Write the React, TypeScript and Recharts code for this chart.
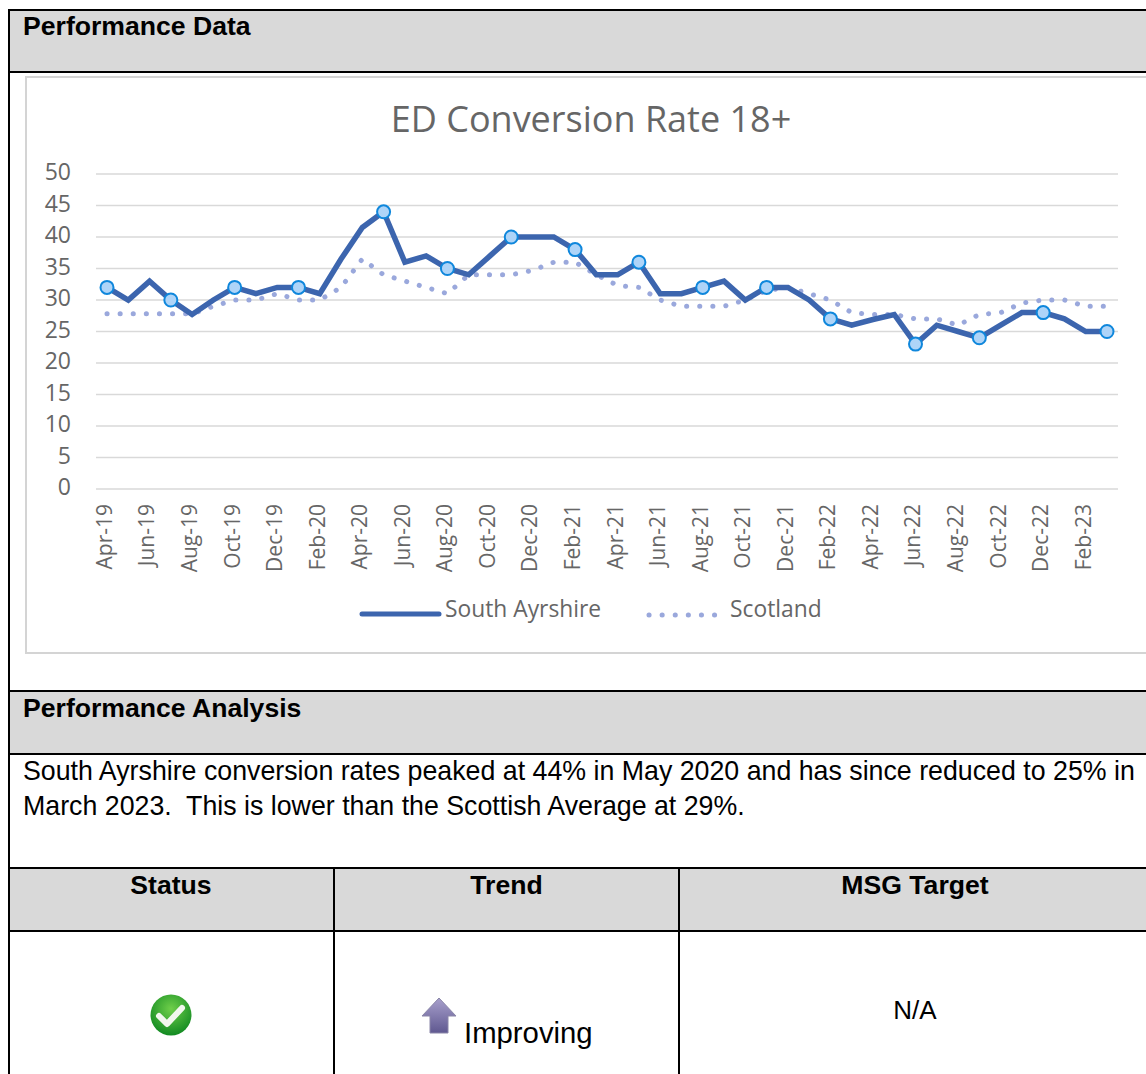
import { CSSProperties } from 'react'
import { LineChart, Line, XAxis, YAxis, CartesianGrid, Legend } from 'recharts'

const MONTHS = [
  'Apr-19', 'May-19', 'Jun-19', 'Jul-19', 'Aug-19', 'Sep-19', 'Oct-19', 'Nov-19', 'Dec-19',
  'Jan-20', 'Feb-20', 'Mar-20', 'Apr-20', 'May-20', 'Jun-20', 'Jul-20', 'Aug-20', 'Sep-20', 'Oct-20', 'Nov-20', 'Dec-20',
  'Jan-21', 'Feb-21', 'Mar-21', 'Apr-21', 'May-21', 'Jun-21', 'Jul-21', 'Aug-21', 'Sep-21', 'Oct-21', 'Nov-21', 'Dec-21',
  'Jan-22', 'Feb-22', 'Mar-22', 'Apr-22', 'May-22', 'Jun-22', 'Jul-22', 'Aug-22', 'Sep-22', 'Oct-22', 'Nov-22', 'Dec-22',
  'Jan-23', 'Feb-23', 'Mar-23',
]

const SOUTH_AYRSHIRE = [
  32, 30, 33, 30, 27.7, 30, 32, 31, 32,
  32, 31, 36.5, 41.5, 44, 36, 37, 35, 34, 37, 40, 40,
  40, 38, 34, 34, 36, 31, 31, 32, 33, 30, 32, 32,
  30, 27, 26, 26.9, 27.7, 23, 26, 25, 24, 26, 28, 28,
  27, 25, 25,
]

const SCOTLAND = [
  27.8, 27.8, 27.8, 27.8, 27.8, 29, 30, 30, 31,
  30, 30, 32, 36.5, 34, 33, 32, 31, 34, 34, 34, 34.7,
  36, 36, 34, 32.3, 32, 30, 29, 29, 29, 30, 31.5, 32,
  31, 30, 28, 27.7, 27.7, 27, 27, 26, 27.7, 28, 29.5, 30,
  30, 29, 29,
]

// months that carry a round marker on the South Ayrshire line
const MARKED = [
  'Apr-19', 'Jul-19', 'Oct-19', 'Jan-20', 'May-20', 'Aug-20', 'Nov-20', 'Feb-21',
  'May-21', 'Aug-21', 'Nov-21', 'Feb-22', 'Jun-22', 'Sep-22', 'Dec-22', 'Mar-23',
]

const Y_TICKS = [0, 5, 10, 15, 20, 25, 30, 35, 40, 45, 50]

const chartData = MONTHS.map((month, i) => ({
  month,
  southAyrshire: SOUTH_AYRSHIRE[i],
  scotland: SCOTLAND[i],
}))

const CHART_FONT = '"Open Sans", sans-serif'
const TEXT_FONT = '"Liberation Sans", Arial, sans-serif'
const AXIS_GREY = '#666666'
const MAIN_BLUE = '#3c65ae'
const DOT_BLUE = '#9aa8dc'

function box(left: number, top: number, width: number, height: number, background: string): CSSProperties {
  return { position: 'absolute', left, top, width, height, background }
}

function label(left: number, top: number, size: number, bold = false): CSSProperties {
  return {
    position: 'absolute',
    left,
    top,
    fontFamily: TEXT_FONT,
    fontSize: size,
    fontWeight: bold ? 700 : 400,
    color: '#000',
    whiteSpace: 'pre',
    lineHeight: 1,
  }
}

function MarkerDot(props: any) {
  const { cx, cy, payload, index } = props
  if (!MARKED.includes(payload.month)) return <g key={index} />
  return <circle key={index} cx={cx} cy={cy} r={6.5} fill="#aed4f8" stroke="#0f87dc" strokeWidth={2} />
}

function ChartLegend() {
  return (
    <svg width={520} height={40} style={{ display: 'block' }}>
      <line x1={3} x2={80} y1={24} y2={24} stroke={MAIN_BLUE} strokeWidth={5} strokeLinecap="round" />
      <text x={86} y={27} fontFamily={CHART_FONT} fontSize={22.8} fill={AXIS_GREY}>South Ayrshire</text>
      <line x1={290} x2={360} y1={25} y2={25} stroke={DOT_BLUE} strokeWidth={5} strokeLinecap="round" strokeDasharray="0.1 13" />
      <text x={371} y={27} fontFamily={CHART_FONT} fontSize={22.8} fill={AXIS_GREY}>Scotland</text>
    </svg>
  )
}

function CheckIcon() {
  return (
    <svg width={44} height={44} viewBox="0 0 44 44" style={{ position: 'absolute', left: 149, top: 993 }}>
      <defs>
        <radialGradient id="checkFill" cx="50%" cy="35%" r="65%">
          <stop offset="0%" stopColor="#6fcf4a" />
          <stop offset="100%" stopColor="#128a22" />
        </radialGradient>
      </defs>
      <circle cx={22} cy={22} r={20.5} fill="url(#checkFill)" />
      <path d="M10 23 L18 31 L33 15" fill="none" stroke="#f2f7ee" strokeWidth={6} strokeLinejoin="round" strokeLinecap="round" />
    </svg>
  )
}

function ArrowIcon() {
  return (
    <svg width={38} height={40} viewBox="0 0 38 40" style={{ position: 'absolute', left: 421, top: 997 }}>
      <defs>
        <linearGradient id="arrowFill" x1="0" y1="0" x2="0" y2="1">
          <stop offset="0%" stopColor="#a8a0cc" />
          <stop offset="100%" stopColor="#5f5890" />
        </linearGradient>
      </defs>
      <path d="M18 1 L35 19 L27 19 L27 36 L9 36 L9 19 L1 19 Z" fill="url(#arrowFill)" stroke="#8a86a8" strokeWidth={1} />
    </svg>
  )
}

export default function App() {
  return (
    <div style={{ position: 'absolute', left: 0, top: 0, width: 1146, height: 1074, overflow: 'hidden', background: '#fff' }}>
      {/* table shading */}
      <div style={box(9, 10, 1137, 62, '#d9d9d9')} />
      <div style={box(9, 691, 1137, 63, '#d9d9d9')} />
      <div style={box(9, 868, 1137, 62, '#d9d9d9')} />

      {/* chart frame */}
      <div style={{ position: 'absolute', left: 25, top: 76, width: 1130, height: 578, border: '2px solid #d4d4d4', boxSizing: 'border-box' }} />

      <div style={{ position: 'absolute', left: 0, top: 0 }}>
        <LineChart
          width={1146}
          height={720}
          data={chartData}
          margin={{ top: 174, right: 28, bottom: 0, left: 0 }}
        >
          <CartesianGrid vertical={false} stroke="#d9d9d9" strokeWidth={1.5} />
          <XAxis
            dataKey="month"
            interval={1}
            height={191}
            padding={{ left: 11, right: 11 }}
            axisLine={false}
            tickLine={false}
            angle={-90}
            textAnchor="end"
            tickMargin={16}
            tick={{ fontSize: 21, fontFamily: CHART_FONT, fill: AXIS_GREY, dx: -10, dy: -7 }}
          />
          <YAxis
            width={96}
            domain={[0, 50]}
            ticks={Y_TICKS}
            interval={0}
            axisLine={false}
            tickLine={false}
            tickMargin={19}
            tick={{ fontSize: 23, fontFamily: CHART_FONT, fill: AXIS_GREY, dy: -2 }}
          />
          <Legend
            content={<ChartLegend />}
            wrapperStyle={{ position: 'absolute', left: 359, top: 590, width: 520, height: 40 }}
          />
          <Line
            dataKey="scotland"
            name="Scotland"
            stroke={DOT_BLUE}
            strokeWidth={5}
            strokeLinecap="round"
            strokeDasharray="0.1 13"
            dot={false}
            isAnimationActive={false}
          />
          <Line
            dataKey="southAyrshire"
            name="South Ayrshire"
            stroke={MAIN_BLUE}
            strokeWidth={5.5}
            dot={MarkerDot}
            activeDot={false}
            isAnimationActive={false}
          />
        </LineChart>
      </div>

      <div style={{ position: 'absolute', left: 0, top: 96, width: 1182, textAlign: 'center', fontFamily: CHART_FONT, fontSize: 36, color: AXIS_GREY, lineHeight: '46px' }}>
        ED Conversion Rate 18+
      </div>

      {/* table rules */}
      <div style={box(8, 9, 1138, 2, '#000')} />
      <div style={box(8, 71, 1138, 2, '#000')} />
      <div style={box(8, 690, 1138, 2, '#000')} />
      <div style={box(8, 753, 1138, 2, '#000')} />
      <div style={box(8, 867, 1138, 2, '#000')} />
      <div style={box(8, 930, 1138, 2, '#000')} />
      <div style={box(8, 9, 2, 1065, '#000')} />
      <div style={box(333, 868, 2, 206, '#000')} />
      <div style={box(678, 868, 2, 206, '#000')} />

      {/* table text */}
      <div style={label(23, 13, 26.6, true)}>Performance Data</div>
      <div style={label(23, 695, 26.6, true)}>Performance Analysis</div>
      <div style={label(23, 758, 26.75)}>South Ayrshire conversion rates peaked at 44% in May 2020 and has since reduced to 25% in</div>
      <div style={label(23, 793, 26.75)}>March 2023.  This is lower than the Scottish Average at 29%.</div>
      <div style={{ ...label(9, 872, 26.6, true), width: 324, textAlign: 'center' }}>Status</div>
      <div style={{ ...label(335, 872, 26.6, true), width: 343, textAlign: 'center' }}>Trend</div>
      <div style={{ ...label(680, 872, 26.6, true), width: 470, textAlign: 'center' }}>MSG Target</div>
      <div style={label(464, 1018, 29.3)}>Improving</div>
      <div style={{ ...label(680, 997, 26), width: 470, textAlign: 'center' }}>N/A</div>

      <CheckIcon />
      <ArrowIcon />
    </div>
  )
}
